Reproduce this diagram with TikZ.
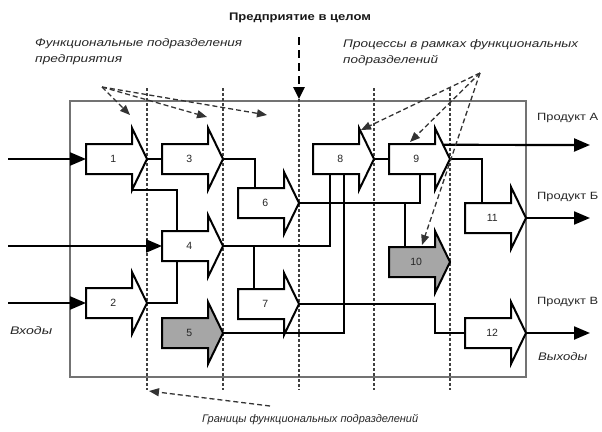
\documentclass[tikz,border=0pt]{standalone}
\usepackage{fontspec}
\setmainfont{Liberation Sans}
\usetikzlibrary{arrows.meta,calc}
\newcommand\wbox[2]{\resizebox{#1}{\height}{#2}}
\newcommand\proc[5][white]{%
  \draw[procshape, fill=#1] (#3,#4) ++(0,15) -- ++(0,-30) -- ++(46,0) -- ++(0,-16)
     -- ++(15,31) coordinate (#2t) -- ++(-15,31) coordinate (#2hb) -- ++(0,-16) -- cycle;
  \node[body] (#2) at (#3,#4) {\hspace*{8pt}#5};
}
\begin{document}
\begin{tikzpicture}[x=1pt,y=-1pt,
  procshape/.style={line width=2pt, line join=miter, draw=black},
  body/.style={minimum width=46pt, minimum height=30pt, inner sep=0pt, anchor=west,
               font=\fontsize{10.5}{12}\selectfont, text=black!85},
  frame/.style={line width=1.1pt, draw=black!55},
  bound/.style={line width=1.3pt, draw=black!75, dash pattern=on 3pt off 2pt},
  note/.style={line width=1.3pt, draw=black!80, dash pattern=on 5pt off 3pt,
               -{Triangle[length=10pt,width=8pt]}},
  bignote/.style={line width=2.6pt, draw=black, dash pattern=on 8pt off 5pt,
               -{Triangle[length=12pt,width=11pt]}},
  conn/.style={line width=2.2pt, line join=miter},
  io/.style={line width=2.2pt, -{Triangle[length=16pt,width=13pt]}},
  lab/.style={font=\fontsize{11}{16}\selectfont\itshape, text=black!85, inner sep=0pt, align=left, anchor=west},
  prod/.style={font=\fontsize{10.5}{12}\selectfont, text=black!85, inner sep=0pt, anchor=west}
]
\useasboundingbox (0,0) rectangle (602,431);

% frame
\draw[frame] (70,101) rectangle (526,377);

% boundaries of functional units
\draw[bound] (147,88) -- (147,390);
\draw[bound] (223,88) -- (223,390);
\draw[bound] (299,99) -- (299,390);
\draw[bound] (374,88) -- (374,390);
\draw[bound] (450,88) -- (450,390);

% coordinates for free ends
\coordinate (in1) at (8,159);
\coordinate (in2) at (8,246);
\coordinate (in3) at (8,303);
\coordinate (outA) at (590,145);
\coordinate (outB) at (590,218);
\coordinate (outC) at (590,333);

% processes
\proc{n1}{86}{159}{1}
\proc{n3}{162}{159}{3}
\proc{n8}{313}{159}{8}
\proc{n9}{389}{159}{9}
\proc{n6}{238}{203}{6}
\proc{n11}{465}{218}{11}
\proc{n4}{162}{246}{4}
\proc[black!35]{n10}{389}{262}{10}
\proc{n2}{86}{303}{2}
\proc{n7}{238}{304}{7}
\proc[black!35]{n5}{162}{333}{5}
\proc{n12}{465}{333}{12}

% inputs
\draw[io] (in1) -- (n1.west);
\draw[io] (in2) -- (n4.west);
\draw[io] (in3) -- (n2.west);

% connectors
\draw[conn] (n1t) -- (n3.west);
\draw[conn] (n1hb) -| ($(n4.north west)+(15,0)$);
\draw[conn] (n2t) -| ($(n4.south west)+(15,0)$);
\draw[conn] (n3t) -| ($(n6.north west)+(17,0)$);
\draw[conn] (n4t) -| ($(n7.north west)+(16,0)$);
\draw[conn] (n4t) -| ($(n8.south west)+(17,0)$);
\draw[conn] (n5t) -| ($(n8.south west)+(31,0)$);
\draw[conn] (n6t) -| ($(n9.south west)+(31,0)$);
\draw[conn] ($(n6t -| n10.north west)+(16,0)$) -- ($(n10.north west)+(16,0)$);
\draw[conn] (n7t) -- ++(136,0) |- (n12.west);
\draw[conn] (n8t) -- (n9.west);
\draw[conn] (n9t) -| ($(n11.north west)+(17,0)$);

% outputs
\draw[io] ($(n9.north east)+(8,1)$) -- (outA);
\draw[io] (n11t) -- (outB);
\draw[io] (n12t) -- (outC);

% annotation arrows
\coordinate (fsrc) at (102,87);
\coordinate (psrc) at (480,73);
\coordinate (gsrc) at (270,406);
\coordinate (esrc) at (299,37);
\draw[note] (fsrc) -- (130,115);
\draw[note] (fsrc) -- (207,117);
\draw[note] (fsrc) -- (267,115);
\draw[note] (psrc) -- (361,130);
\draw[note] (psrc) -- (410,142);
\draw[note] (psrc) -- (422,245);
\draw[note] (gsrc) -- (149,391);
\draw[bignote] (esrc) -- (299,99);

% texts
\node[font=\fontsize{11}{12}\selectfont\bfseries, text=black!90, inner sep=0pt] (tent) at (300,18)
  {\wbox{142pt}{Предприятие в целом}};
\node[lab] (tfunc) at (35,52)
  {\wbox{207pt}{Функциональные подразделения}\\\wbox{87pt}{предприятия}};
\node[lab] (tproc) at (343,53)
  {\wbox{235pt}{Процессы в рамках функциональных}\\\wbox{95pt}{подразделений}};
\node[lab] (tgr) at (202,420) {\wbox{216pt}{Границы функциональных подразделений}};
\node[lab] (tin) at (10,331) {\wbox{42pt}{Входы}};
\node[lab] (tout) at (538,357) {\wbox{49pt}{Выходы}};
\node[prod] (tA) at (537,118) {\wbox{61pt}{Продукт А}};
\node[prod] (tB) at (537,197) {\wbox{61pt}{Продукт Б}};
\node[prod] (tC) at (537,302) {\wbox{61pt}{Продукт В}};
\end{tikzpicture}
\end{document}
